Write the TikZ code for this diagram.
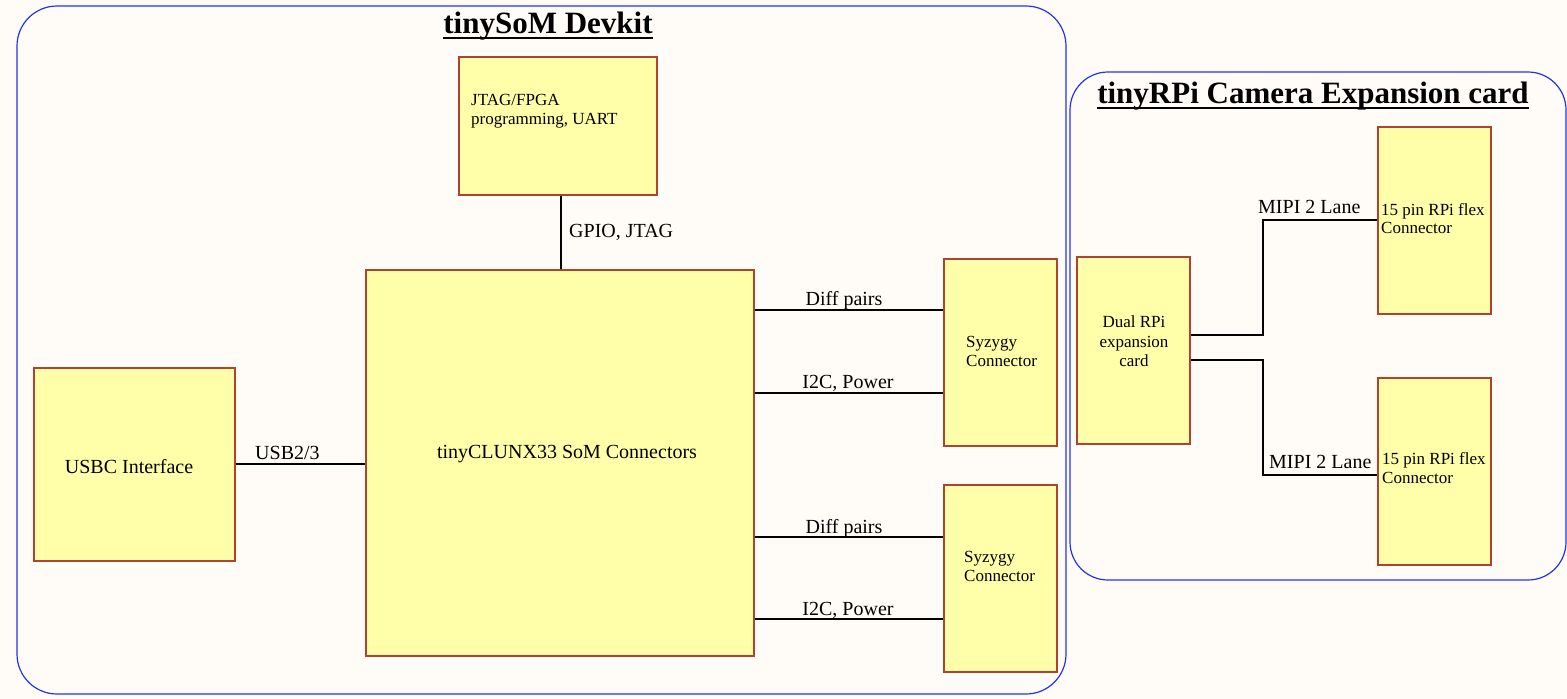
\documentclass[tikz,border=0pt]{standalone}
\usepackage{fontspec}
\setmainfont{Liberation Serif}
\usetikzlibrary{calc}
\definecolor{bgcol}{HTML}{FFFCF7}
\definecolor{boxfill}{HTML}{FFFFAA}
\definecolor{boxline}{HTML}{B0432F}
\definecolor{framecol}{HTML}{2233EE}
\tikzset{
  blk/.style={draw=boxline, fill=boxfill, line width=1.1pt, inner sep=0pt, minimum width=#1},
  frame/.style={draw=framecol, line width=1.2pt, rounded corners=#1},
  conn/.style={draw=black, line width=2pt},
  lbl/.style={inner sep=0pt, font=\fontsize{20}{24}\selectfont},
  btxt/.style={inner sep=0pt, font=\fontsize{17}{19.5}\selectfont},
  ttl/.style={inner sep=0pt, font=\fontsize{31}{35}\selectfont\bfseries}
}
\begin{document}
\begin{tikzpicture}[x=1pt,y=-1pt]
\useasboundingbox (0,0) rectangle (1567,699);
\fill[bgcol] (0,0) rectangle (1567,699);

% frames
\draw[frame=40pt] (17,6) rectangle (1066,694);
\draw[frame=38pt] (1070,72) rectangle (1566,580);

% titles
\node[ttl, anchor=base] (t1) at (548,33) {tinySoM Devkit};
\draw[line width=2pt] ([yshift=-5pt]t1.base west) -- ([yshift=-5pt]t1.base east);
\node[ttl, anchor=base] (t2) at (1313,103) {tinyRPi Camera Expansion card};
\draw[line width=2pt] ([yshift=-5pt]t2.base west) -- ([yshift=-5pt]t2.base east);

% blocks
\node[blk=198pt, minimum height=138pt] (jtag) at (558,126) {};
\node[blk=388pt, minimum height=386pt] (main) at (560,463) {};
\node[blk=201pt, minimum height=193pt] (usbc) at (134.5,464.5) {};
\node[blk=113pt, minimum height=187pt] (syz1) at (1000.5,352.5) {};
\node[blk=113pt, minimum height=187pt] (syz2) at (1000.5,578.5) {};
\node[blk=113pt, minimum height=187pt] (dual) at (1133.5,350.5) {};
\node[blk=113pt, minimum height=187pt] (flex1) at (1434.5,220.5) {};
\node[blk=113pt, minimum height=187pt] (flex2) at (1434.5,471.5) {};

% block texts
\node[btxt, anchor=base west] (jt1) at (471,105) {JTAG/FPGA};
\node[btxt, anchor=base west] (jt2) at (471,124) {programming, UART};
\node[lbl, anchor=base] (mt) at (567,458) {tinyCLUNX33 SoM Connectors};
\node[lbl, anchor=base] (ut) at (129,473) {USBC Interface};
\node[btxt, anchor=base west] (s1a) at (966,347) {Syzygy};
\node[btxt, anchor=base west] (s1b) at (966,366) {Connector};
\node[btxt, anchor=base west] (s2a) at (964,562) {Syzygy};
\node[btxt, anchor=base west] (s2b) at (964,581) {Connector};
\node[btxt, anchor=base] (d1) at (1134,327) {Dual RPi};
\node[btxt, anchor=base] (d2) at (1134,347) {expansion};
\node[btxt, anchor=base] (d3) at (1134,366) {card};
\node[btxt, anchor=base west] (f1a) at (1381,215) {15 pin RPi flex};
\node[btxt, anchor=base west] (f1b) at (1381,233) {Connector};
\node[btxt, anchor=base west] (f2a) at (1382,464) {15 pin RPi flex};
\node[btxt, anchor=base west] (f2b) at (1382,483) {Connector};

% helper coordinates
\coordinate (gx) at (561,0);
\coordinate (ly1) at (0,310);
\coordinate (ly2) at (0,393);
\coordinate (ly3) at (0,537);
\coordinate (ly4) at (0,619);
\coordinate (uy) at (0,464);
\coordinate (my1) at (0,335);
\coordinate (my2) at (0,360);
\coordinate (mx) at (1263,0);
\coordinate (fy1) at (0,220);
\coordinate (fy2) at (0,475);

% connectors
\draw[conn] (jtag.south -| gx) -- (main.north -| gx);
\draw[conn] (usbc.east |- uy) -- (main.west |- uy);
\draw[conn] (main.east |- ly1) -- (syz1.west |- ly1);
\draw[conn] (main.east |- ly2) -- (syz1.west |- ly2);
\draw[conn] (main.east |- ly3) -- (syz2.west |- ly3);
\draw[conn] (main.east |- ly4) -- (syz2.west |- ly4);
\draw[conn] (dual.east |- my1) -- (mx |- my1) -- (mx |- fy1) -- (flex1.west |- fy1);
\draw[conn] (dual.east |- my2) -- (mx |- my2) -- (mx |- fy2) -- (flex2.west |- fy2);

% connector labels
\node[lbl, anchor=base west] (lg) at (569,237) {GPIO, JTAG};
\node[lbl, anchor=base west] (lu) at (255,459) {USB2/3};
\node[lbl, anchor=base] (l1) at (844,305) {Diff pairs};
\node[lbl, anchor=base] (l2) at (848,388) {I2C, Power};
\node[lbl, anchor=base] (l3) at (844,533) {Diff pairs};
\node[lbl, anchor=base] (l4) at (848,615) {I2C, Power};
\node[lbl, anchor=base west] (lm1) at (1258,213) {MIPI 2 Lane};
\node[lbl, anchor=base west] (lm2) at (1269,468) {MIPI 2 Lane};
\end{tikzpicture}
\end{document}
